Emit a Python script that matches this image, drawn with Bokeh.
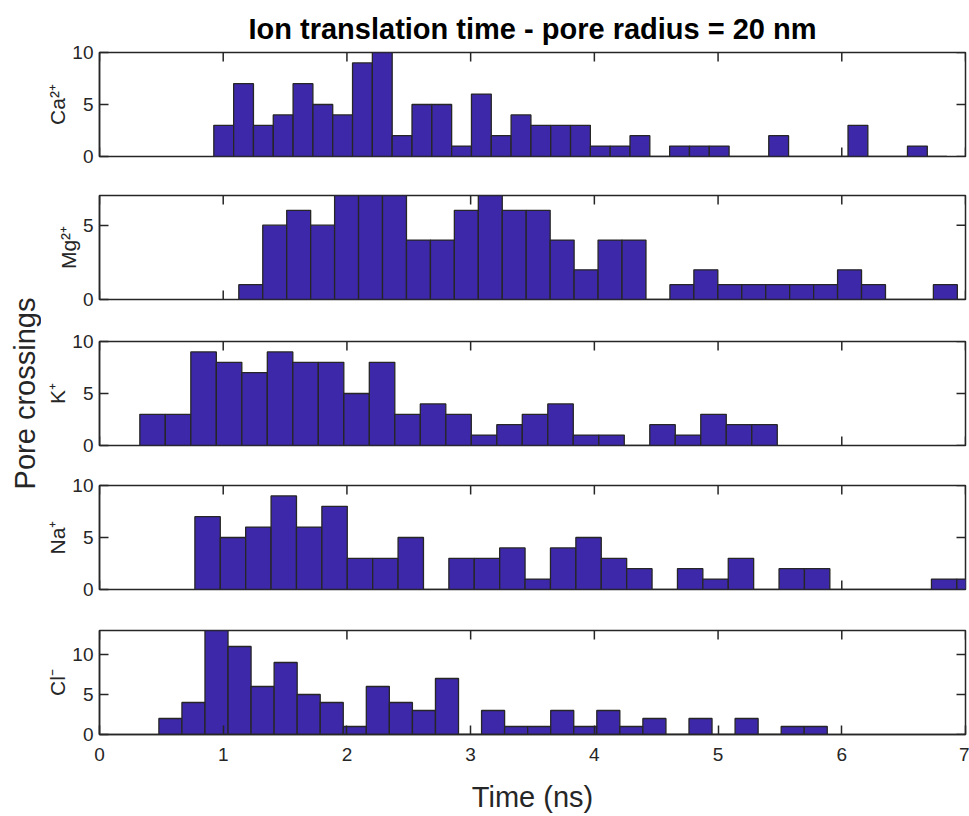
from bokeh.plotting import figure
from bokeh.layouts import column, row
from bokeh.models import Range1d, FixedTicker, Title
from bokeh.embed import file_html
from bokeh.resources import INLINE

# ---------------- data (histogram counts) ----------------
ion_labels = ["Ca²⁺", "Mg²⁺", "K⁺", "Na⁺", "Cl⁻"]

ca_bin_start, ca_bin_width = 0.924, 0.1602
ca_counts = [3, 7, 3, 4, 7, 5, 4, 9, 10, 2, 5, 5, 1, 6, 2, 4, 3, 3, 3, 1, 1, 2, 0,
             1, 1, 1, 0, 0, 2, 0, 0, 0, 3, 0, 0, 1, 0]

mg_bin_start, mg_bin_width = 1.126, 0.1936
mg_counts = [1, 5, 6, 5, 7, 7, 7, 4, 4, 6, 7, 6, 6, 4, 2, 4, 4, 0, 1, 2, 1, 1, 1,
             1, 1, 2, 1, 0, 0, 1]

k_bin_start, k_bin_width = 0.326, 0.2061
k_counts = [3, 3, 9, 8, 7, 9, 8, 8, 5, 8, 3, 4, 3, 1, 2, 3, 4, 1, 1, 0, 2, 1, 3, 2, 2]

na_bin_start, na_bin_width = 0.771, 0.2053
na_counts = [7, 5, 6, 9, 6, 8, 3, 3, 5, 0, 3, 3, 4, 1, 4, 5, 3, 2, 0, 2, 1, 3, 0,
             2, 2, 0, 0, 0, 0, 1, 1]

cl_bin_start, cl_bin_width = 0.480, 0.1863
cl_counts = [2, 4, 13, 11, 6, 9, 5, 4, 1, 6, 4, 3, 7, 0, 3, 1, 1, 3, 1, 3, 1, 2,
             0, 2, 0, 2, 0, 1, 1]

y_max = [10, 7, 10, 10, 13]
y_ticks = [[0, 5, 10], [0, 5], [0, 5, 10], [0, 5, 10], [0, 5, 10]]
x_min, x_max = 0, 7
x_ticks = [0, 1, 2, 3, 4, 5, 6, 7]
x_tick_labels = ["0", "1", "2", "3", "4", "5", "6", "7"]

title_text = "Ion translation time - pore radius = 20 nm"
x_label = "Time (ns)"
y_label = "Pore crossings"

# ---------------- styling ----------------
FONT = "Liberation Sans"
AX = "#262626"
BAR = "#3C28A8"
LEFT_W = 41           # strip holding the shared y label
FRAME_W = 866
FRAME_H = 104
TICK_PX = 9
borders = [(52, 19), (20, 21), (21, 20), (20, 21), (20, 82)]

series = [
    (ca_bin_start, ca_bin_width, ca_counts),
    (mg_bin_start, mg_bin_width, mg_counts),
    (k_bin_start, k_bin_width, k_counts),
    (na_bin_start, na_bin_width, na_counts),
    (cl_bin_start, cl_bin_width, cl_counts),
]


def style_axis(ax, ticks):
    ax.ticker = FixedTicker(ticks=ticks)
    ax.axis_line_color = AX
    ax.axis_line_width = 1.5
    ax.major_tick_line_color = AX
    ax.major_tick_line_width = 1.5
    ax.major_tick_in = TICK_PX
    ax.major_tick_out = 0
    ax.minor_tick_line_color = None
    ax.major_label_text_font = FONT
    ax.major_label_text_font_size = "19px"
    ax.major_label_text_color = AX


figs = []
n = len(series)
for i, ((start, width, counts), label) in enumerate(zip(series, ion_labels)):
    top_b, bot_b = borders[i]
    last = (i == n - 1)
    p = figure(width=969 - LEFT_W, height=top_b + FRAME_H + bot_b,
               x_range=Range1d(x_min, x_max), y_range=Range1d(0, y_max[i]),
               output_backend="svg", toolbar_location=None,
               min_border_left=99 - LEFT_W, min_border_right=4,
               min_border_top=top_b, min_border_bottom=bot_b)
    p.outline_line_color = AX
    p.outline_line_width = 1.5
    p.xgrid.visible = False
    p.ygrid.visible = False
    p.background_fill_color = "white"
    p.border_fill_color = "white"

    # mirrored (box) tick marks, drawn beneath the bars like MATLAB's bottom layer
    ty = TICK_PX * y_max[i] / FRAME_H
    tx = TICK_PX * (x_max - x_min) / FRAME_W
    p.segment(x0=x_ticks, x1=x_ticks, y0=[y_max[i]] * len(x_ticks),
              y1=[y_max[i] - ty] * len(x_ticks), line_color=AX, line_width=1.5)
    p.segment(x0=[x_max] * len(y_ticks[i]), x1=[x_max - tx] * len(y_ticks[i]),
              y0=y_ticks[i], y1=y_ticks[i], line_color=AX, line_width=1.5)
    if not last:
        p.segment(x0=x_ticks, x1=x_ticks, y0=[0] * len(x_ticks),
                  y1=[ty] * len(x_ticks), line_color=AX, line_width=1.5)

    left = [start + width * k for k in range(len(counts))]
    right = [start + width * (k + 1) for k in range(len(counts))]
    p.quad(left=left, right=right, bottom=0, top=counts,
           fill_color=BAR, line_color=AX, line_width=1.3)

    style_axis(p.yaxis[0], y_ticks[i])
    p.yaxis[0].major_label_standoff = 6
    p.yaxis[0].axis_label = label
    p.yaxis[0].axis_label_text_font = FONT
    p.yaxis[0].axis_label_text_font_size = "21px"
    p.yaxis[0].axis_label_text_font_style = "normal"
    p.yaxis[0].axis_label_text_color = AX
    p.yaxis[0].axis_label_standoff = 0

    if last:
        xa = p.xaxis[0]
        style_axis(xa, x_ticks)
        xa.major_label_overrides = {t: s for t, s in zip(x_ticks, x_tick_labels)}
        xa.major_label_standoff = 13
        xa.axis_label = x_label
        xa.axis_label_text_font = FONT
        xa.axis_label_text_font_size = "29px"
        xa.axis_label_text_font_style = "normal"
        xa.axis_label_text_color = AX
        xa.axis_label_standoff = 17
    else:
        p.xaxis.visible = False

    if i == 0:
        p.title.text = title_text
        p.title.align = "center"
        p.title.text_font = FONT
        p.title.text_font_size = "29px"
        p.title.text_font_style = "bold"
        p.title.text_color = "black"
        p.title.standoff = 16
    figs.append(p)

# narrow strip on the left carrying the shared "Pore crossings" label
side = figure(width=LEFT_W, height=816, output_backend="svg", toolbar_location=None,
              x_range=Range1d(0, 1), y_range=Range1d(0, 1),
              min_border_left=LEFT_W - 1, min_border_right=0,
              min_border_top=0, min_border_bottom=30)
side.axis.visible = False
side.grid.visible = False
side.outline_line_color = None
side.background_fill_color = "white"
side.border_fill_color = "white"
side.add_layout(Title(text=y_label, align="center", text_font=FONT,
                      text_font_size="29px", text_font_style="normal",
                      text_color=AX, standoff=0), "left")

layout = row(side, column(*figs, spacing=0), spacing=0)
open("out.html", "w").write(file_html(layout, INLINE))
